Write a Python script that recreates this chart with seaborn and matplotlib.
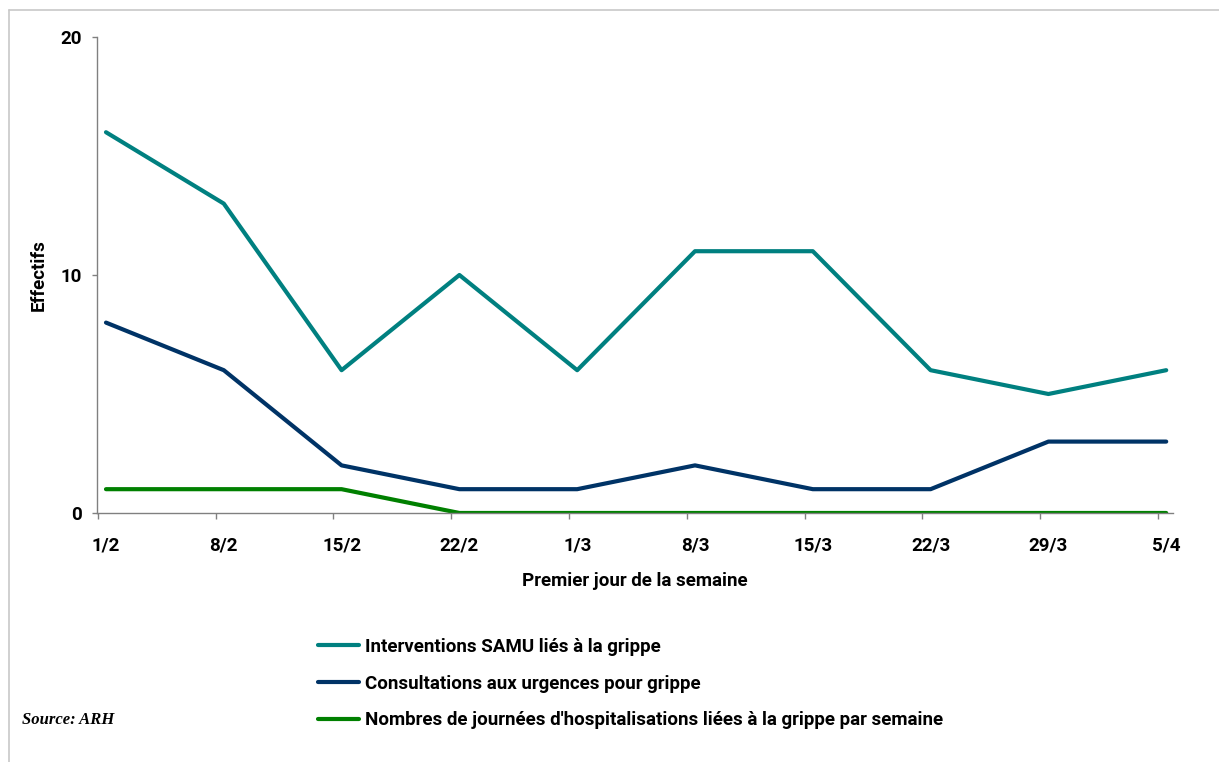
import matplotlib
matplotlib.use("Agg")
import matplotlib.pyplot as plt
import seaborn as sns
import pandas as pd
from matplotlib.lines import Line2D

weeks = ["1/2", "8/2", "15/2", "22/2", "1/3", "8/3", "15/3", "22/3", "29/3", "5/4"]
samu = [16, 13, 6, 10, 6, 11, 11, 6, 5, 6]
urgences = [8, 6, 2, 1, 1, 2, 1, 1, 3, 3]
hospit = [1, 1, 1, 0, 0, 0, 0, 0, 0, 0]
series_names = [
    "Interventions SAMU liés à la grippe",
    "Consultations aux urgences pour grippe",
    "Nombres de journées d'hospitalisations liées à la grippe par semaine",
]
colors = ["#008080", "#003366", "#008000"]

sns.set_theme(style="white")
FONT = ["Roboto", "DejaVu Sans"]
plt.rcParams["font.family"] = FONT
plt.rcParams["text.color"] = "black"
plt.rcParams["xtick.color"] = "black"
plt.rcParams["ytick.color"] = "black"
plt.rcParams["axes.labelcolor"] = "black"
FS = 13.5

rows = []
for name, vals in zip(series_names, [samu, urgences, hospit]):
    for i, (w, v) in enumerate(zip(weeks, vals)):
        rows.append({"pos": i, "week": w, "value": v, "serie": name})
df = pd.DataFrame(rows)

fig = plt.figure(figsize=(12.19, 7.62), dpi=100)
ax = fig.add_axes([0.0796, 0.3268, 0.8827, 0.6246])

sns.lineplot(data=df, x="pos", y="value", hue="serie", palette=colors,
             hue_order=series_names, linewidth=3, ax=ax, legend=False)

ax.set_xlim(-0.076, 9.058)
ax.set_ylim(0, 20)
ax.set_yticks([0, 10, 20])
ax.set_yticklabels(["0", "10", "20"], fontsize=FS, fontweight="bold")
n = len(weeks)
ax.set_xticks([i - 0.07 for i in range(n)])
ax.set_xticklabels([])
ax.set_xticks(list(range(n)), minor=True)
ax.set_xticklabels(weeks, minor=True, fontsize=FS, fontweight="bold")
ax.tick_params(axis="x", which="major", direction="out", length=4, width=1,
               color="#808080", bottom=True)
ax.tick_params(axis="x", which="minor", length=0, pad=17, bottom=True)
ax.tick_params(axis="y", direction="out", length=3.6, width=1, color="#808080",
               left=True, pad=7)
for s in ["top", "right"]:
    ax.spines[s].set_visible(False)
for s in ["left", "bottom"]:
    ax.spines[s].set_color("#808080")
    ax.spines[s].set_linewidth(1)
ax.set_xlabel("Premier jour de la semaine", fontsize=FS, fontweight="bold")
ax.set_ylabel("Effectifs", fontsize=FS, fontweight="bold")
ax.xaxis.set_label_coords(0.5, -0.124)
ax.yaxis.set_label_coords(-0.0455, 0.5)
ax.grid(False)

handles = [Line2D([0], [0], color=c, lw=3) for c in colors]
fig.legend(handles, series_names, loc="upper left", bbox_to_anchor=(0.261, 0.163),
           bbox_transform=fig.transFigure, frameon=False,
           prop={"family": FONT, "weight": "bold", "size": FS},
           handlelength=2.2, handletextpad=0.3, labelspacing=1.0,
           borderpad=0, borderaxespad=0)

fig.text(0.018, 0.055, "Source: ARH", fontsize=12, fontweight="bold", fontstyle="italic",
         family=["Liberation Serif", "DejaVu Serif"], va="center", ha="left")

# outer frame (left and top edges visible)
fig.add_artist(Line2D([0.0075, 0.0075], [0.0, 0.987], color="#c8c8c8", lw=1.2,
                      transform=fig.transFigure))
fig.add_artist(Line2D([0.0075, 1.0], [0.987, 0.987], color="#c8c8c8", lw=1.2,
                      transform=fig.transFigure))

fig.savefig("out.png", dpi=100, facecolor="white")
